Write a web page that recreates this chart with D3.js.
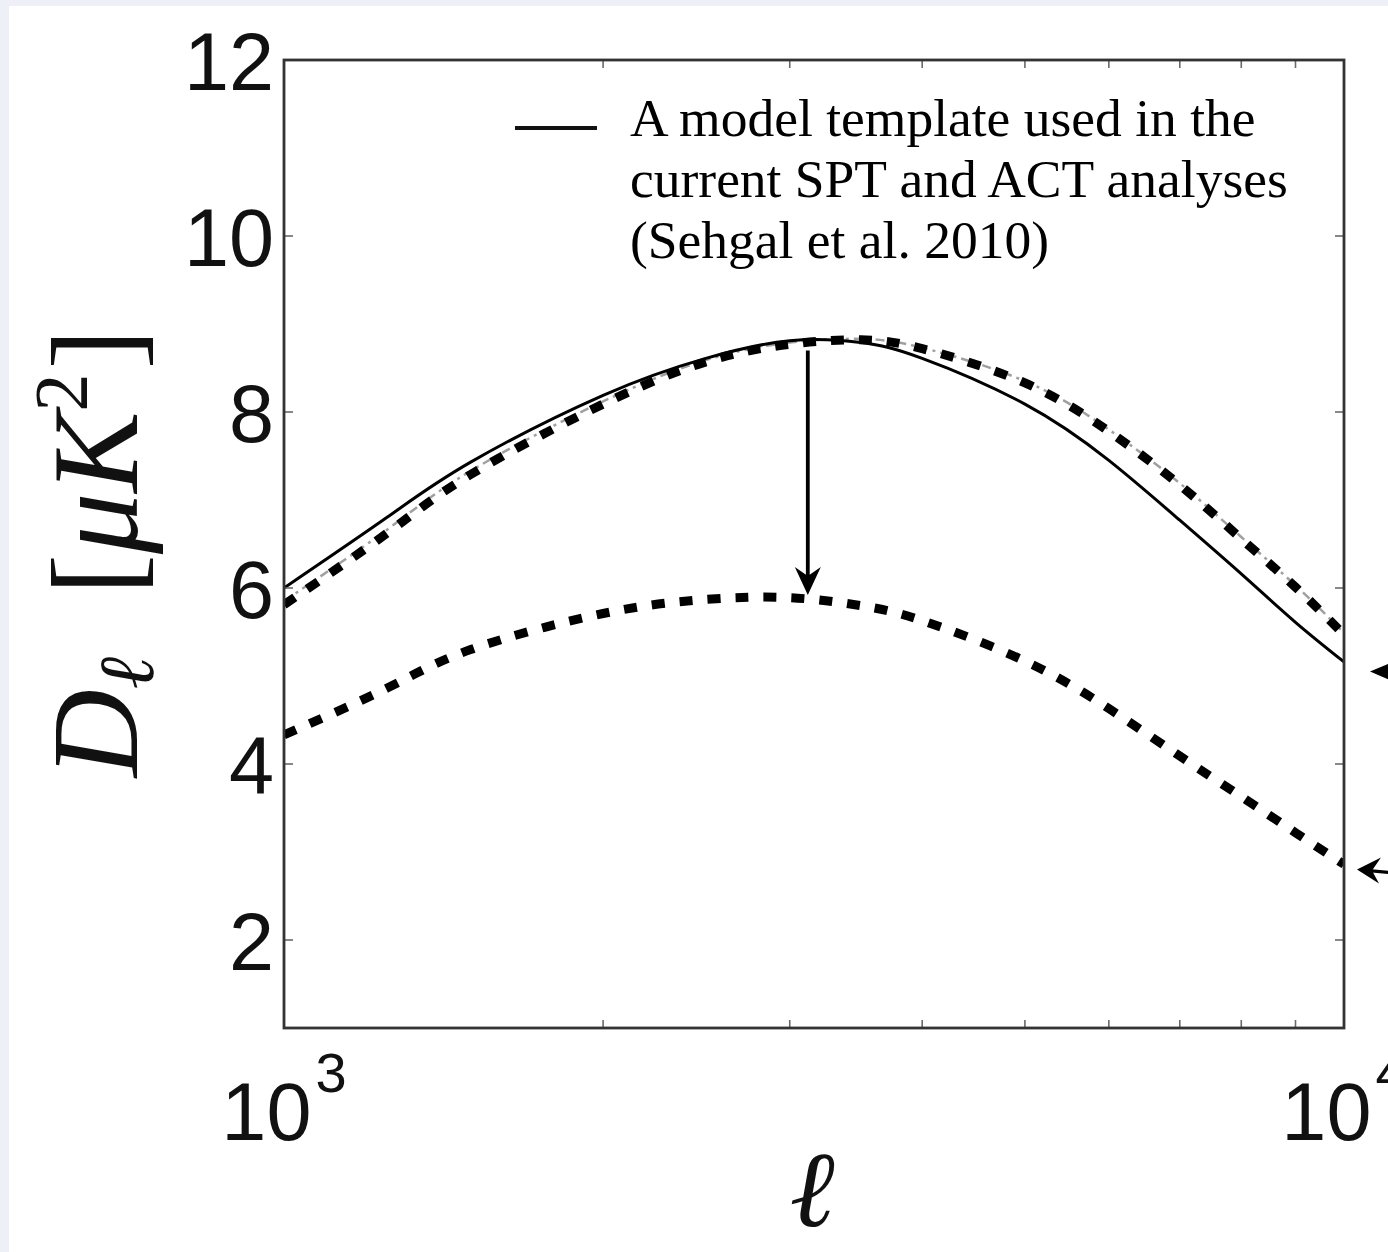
<!DOCTYPE html>
<html>
<head>
<meta charset="utf-8">
<script src="https://cdn.jsdelivr.net/npm/d3@7"></script>
<style>
  html, body { margin: 0; padding: 0; background: #eef0f7; }
  svg { display: block; }
</style>
</head>
<body>
<svg id="chart" width="1388" height="1252"></svg>
<script>
// Multipoles at which the spectra are sampled
const multipoles = [1000, 1250, 1500, 2000, 2500, 3000, 3500, 4000, 5000, 6000, 7000, 8000, 9000, 10000];
// D_ell in muK^2
const templateSolid = [6.00, 6.80, 7.43, 8.19, 8.61, 8.81, 8.79, 8.61, 8.09, 7.45, 6.77, 6.16, 5.61, 5.16];
const upperDashDot  = [5.85, 6.66, 7.33, 8.12, 8.59, 8.79, 8.83, 8.73, 8.35, 7.80, 7.19, 6.58, 6.03, 5.49];
const upperDotted   = [5.81, 6.62, 7.29, 8.09, 8.57, 8.77, 8.82, 8.72, 8.33, 7.78, 7.17, 6.56, 6.01, 5.47];
const lowerDotted   = [4.33, 4.86, 5.30, 5.71, 5.87, 5.89, 5.80, 5.63, 5.17, 4.63, 4.09, 3.63, 3.22, 2.86];

// Axis ticks
const yTicks = [2, 4, 6, 8, 10, 12];
const xMajorTicks = [1000, 10000];
const xMajorExponents = ["3", "4"];
const xMinorTicks = [2000, 3000, 4000, 5000, 6000, 7000, 8000, 9000];

// Legend / annotation text
const legendLines = ["A model template used in the", "current SPT and ACT analyses", "(Sehgal et al. 2010)"];

// Annotation arrow: drop from the template peak to the lower curve
const dropArrow = { ell: 3120, from: 8.70, to: 5.92 };
// Side arrows pointing at the curve ends
const sideArrows = [{ value: 5.05, filled: true }, { value: 2.80, filled: false }];

const svg = d3.select("#chart");
const W = 1388, H = 1252;
const plot = { left: 284, right: 1344, top: 60, bottom: 1028 };

// white page panel
svg.append("rect").attr("x", 9).attr("y", 6).attr("width", W - 9).attr("height", H - 6).attr("fill", "#ffffff");

const x = d3.scaleLog().domain([1000, 10000]).range([plot.left, plot.right]);
const y = d3.scaleLinear().domain([1, 12]).range([plot.bottom, plot.top]);

svg.append("defs").append("clipPath").attr("id", "plotClip")
  .append("rect").attr("x", plot.left).attr("y", plot.top)
  .attr("width", plot.right - plot.left).attr("height", plot.bottom - plot.top);

const line = d3.line().x(d => x(d[0])).y(d => y(d[1])).curve(d3.curveNatural);
const pairs = vals => multipoles.map((m, i) => [m, vals[i]]);

const curves = svg.append("g").attr("clip-path", "url(#plotClip)");

// thin grey dash-dot curve
curves.append("path").attr("d", line(pairs(upperDashDot)))
  .attr("fill", "none").attr("stroke", "#a0a0a0").attr("stroke-width", 2.5)
  .attr("stroke-dasharray", "9 5 3 5");
// thick dotted curves
curves.append("path").attr("d", line(pairs(upperDotted)))
  .attr("fill", "none").attr("stroke", "#000").attr("stroke-width", 9)
  .attr("stroke-dasharray", "13 15");
curves.append("path").attr("d", line(pairs(lowerDotted)))
  .attr("fill", "none").attr("stroke", "#000").attr("stroke-width", 9)
  .attr("stroke-dasharray", "13 15");
// solid template
curves.append("path").attr("d", line(pairs(templateSolid)))
  .attr("fill", "none").attr("stroke", "#000").attr("stroke-width", 3);

// ticks (inside, on all four sides)
const tickG = svg.append("g").attr("stroke", "#6a6a6a").attr("stroke-width", 1.6);
yTicks.forEach(v => {
  tickG.append("line").attr("x1", plot.left).attr("x2", plot.left + 9).attr("y1", y(v)).attr("y2", y(v));
  tickG.append("line").attr("x1", plot.right).attr("x2", plot.right - 9).attr("y1", y(v)).attr("y2", y(v));
});
xMinorTicks.forEach(v => {
  tickG.append("line").attr("x1", x(v)).attr("x2", x(v)).attr("y1", plot.bottom).attr("y2", plot.bottom - 8);
  tickG.append("line").attr("x1", x(v)).attr("x2", x(v)).attr("y1", plot.top).attr("y2", plot.top + 8);
});

// frame
svg.append("rect").attr("x", plot.left).attr("y", plot.top)
  .attr("width", plot.right - plot.left).attr("height", plot.bottom - plot.top)
  .attr("fill", "none").attr("stroke", "#333").attr("stroke-width", 2.8);

// y tick labels
const sans = "'Liberation Sans', Arial, Helvetica, sans-serif";
svg.append("g").selectAll("text").data(yTicks).join("text")
  .attr("x", plot.left - 10).attr("y", d => y(d) + 30)
  .attr("text-anchor", "end").attr("font-family", sans).attr("font-size", 81)
  .attr("fill", "#111").text(d => d);

// x tick labels 10^n
xMajorTicks.forEach((v, i) => {
  const t = svg.append("text").attr("x", x(v)).attr("y", 1140)
    .attr("text-anchor", "middle").attr("font-family", sans).attr("font-size", 81).attr("fill", "#111");
  t.append("tspan").text("10");
  t.append("tspan").attr("dy", -48).attr("dx", 4).attr("font-size", 56).text(xMajorExponents[i]);
});

// axis titles
const serif = "'Liberation Serif', 'Times New Roman', serif";
svg.append("text").attr("x", 812).attr("y", 1226).attr("text-anchor", "middle")
  .attr("font-family", serif).attr("font-style", "italic").attr("font-size", 108).attr("fill", "#111")
  .text("ℓ");

const yl = svg.append("text").attr("transform", "translate(137,553) rotate(-90)")
  .attr("text-anchor", "middle").attr("font-family", serif).attr("font-size", 122).attr("fill", "#111");
yl.append("tspan").attr("font-style", "italic").text("D");
yl.append("tspan").attr("font-style", "italic").attr("font-size", 78).attr("dy", 16).text("ℓ");
yl.append("tspan").attr("dy", -16).attr("dx", 62).text("[");
yl.append("tspan").attr("font-style", "italic").text("μK");
yl.append("tspan").attr("font-size", 76).attr("dy", -50).text("2");
yl.append("tspan").attr("dy", 50).attr("dx", 4).text("]");

// legend
svg.append("line").attr("x1", 515).attr("x2", 597).attr("y1", 128).attr("y2", 128)
  .attr("stroke", "#111").attr("stroke-width", 4);
svg.append("g").selectAll("text").data(legendLines).join("text")
  .attr("x", 630).attr("y", (d, i) => 136 + i * 61)
  .attr("font-family", serif).attr("font-size", 53.5).attr("fill", "#000").text(d => d);

// drop arrow
const ax = x(dropArrow.ell), ay0 = y(dropArrow.from), ay1 = y(dropArrow.to);
svg.append("line").attr("x1", ax).attr("x2", ax).attr("y1", ay0).attr("y2", ay1 - 16)
  .attr("stroke", "#000").attr("stroke-width", 3.8);
svg.append("path")
  .attr("d", `M${ax},${ay1} L${ax - 13},${ay1 - 28} L${ax},${ay1 - 19} L${ax + 13},${ay1 - 28} Z`)
  .attr("fill", "#000");

// side arrows to the right of the frame
sideArrows.forEach(a => {
  const ty = y(a.value);
  const tx = plot.right + (a.filled ? 26 : 13);
  if (a.filled) {
    svg.append("path").attr("d", `M${tx},${ty} L${tx + 26},${ty - 11} L${tx + 26},${ty + 11} Z`).attr("fill", "#000");
  } else {
    svg.append("line").attr("x1", tx + 12).attr("x2", W + 2).attr("y1", ty + 1).attr("y2", ty + 3)
      .attr("stroke", "#000").attr("stroke-width", 3.4);
    svg.append("path").attr("d", `M${tx},${ty} L${tx + 24},${ty - 12} L${tx + 15},${ty + 1} L${tx + 22},${ty + 14} Z`).attr("fill", "#000");
  }
});
</script>
</body>
</html>
